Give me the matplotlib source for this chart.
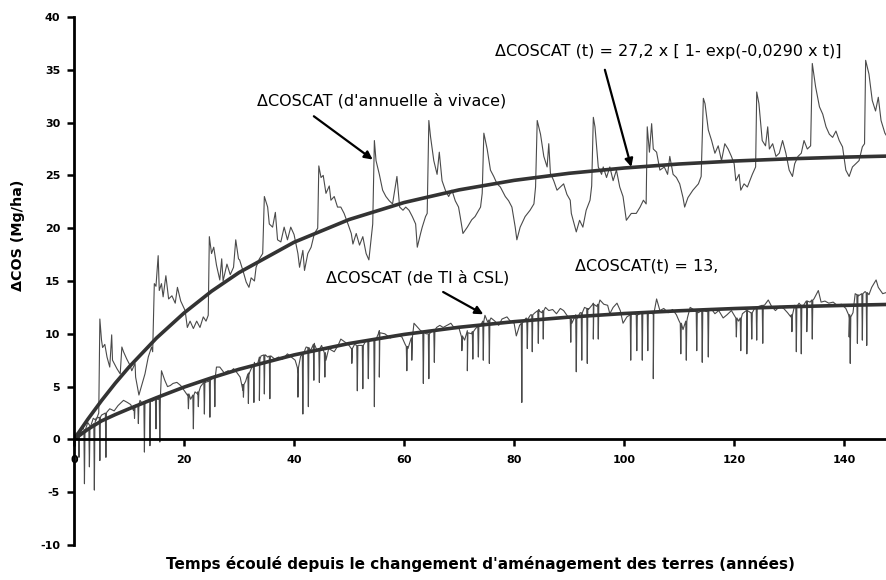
import matplotlib
matplotlib.use("Agg")
import matplotlib.pyplot as plt

plt.rcParams['axes.unicode_minus'] = False

# --- data ------------------------------------------------------------------

# noisy series "de annuelle a vivace" (t in years, value in Mg/ha)
upper_series = [
    (0, 0), (0.5, 0.6), (1, 0.3), (1.5, 1.2), (2, 0.8), (2.5, 1.6), (3, 1.2), (3.5, 2.0), (4, 1.8), (4.5, 2.5),
    (4.7, 11.4), (5.0, 9.4), (5.2, 8.7), (5.6, 9.0), (6.0, 7.8), (6.5, 6.85), (6.85, 9.9), (7.0, 7.5), (7.8, 6.7),
    (8.4, 6.2), (8.7, 8.75), (9.0, 8.3), (9.6, 7.6), (10.2, 7.0), (10.5, 6.5), (11.1, 7.2), (11.2, 5.9), (11.8, 4.2),
    (12.3, 5.1), (12.9, 6.2), (13.5, 7.8), (14.1, 8.75), (14.3, 8.3),
    (14.6, 14.75), (14.9, 14.5), (15.3, 17.4), (15.5, 14.1), (15.9, 14.75), (16.2, 13.5), (16.7, 15.5), (17.2, 13.3),
    (17.8, 13.6), (18.4, 12.9), (18.8, 14.4), (19.4, 13.1), (20.2, 12.2), (20.6, 10.6), (21.1, 11.2), (21.7, 10.5),
    (22.3, 11.2), (22.9, 10.6), (23.5, 11.6), (24.0, 11.2), (24.4, 11.75),
    (24.6, 19.2), (25.0, 17.6), (25.4, 18.2), (25.9, 16.5), (26.5, 15.1), (26.85, 17.1), (27.1, 15.0), (27.8, 16.6),
    (28.4, 15.6), (29.0, 16.3), (29.4, 18.9), (29.9, 17.1), (30.1, 17.0), (30.7, 16.0), (31.3, 14.9), (31.8, 14.4),
    (32.2, 15.3), (32.8, 15.0), (33.1, 16.3), (33.7, 17.1), (34.3, 17.6),
    (34.6, 23.0), (35.2, 22.0), (35.5, 20.4), (36.1, 20.1), (36.6, 21.5), (37.0, 18.9), (37.6, 18.7), (38.2, 20.1),
    (38.8, 18.9), (39.4, 20.1), (40.0, 19.4), (40.7, 17.6), (41.0, 16.3), (41.6, 17.9), (41.9, 16.0), (42.5, 17.6),
    (43.1, 18.2), (43.7, 19.5), (44.3, 20.0),
    (44.5, 25.9), (44.9, 24.8), (45.3, 25.0), (45.8, 23.3), (46.4, 24.0), (46.7, 22.65), (47.3, 23.0), (47.9, 22.0),
    (48.5, 22.0), (49.1, 21.4), (49.8, 20.4), (50.4, 19.5), (50.7, 18.5), (51.3, 19.5), (51.9, 18.4), (52.5, 19.2),
    (53.1, 17.6), (53.6, 17.0), (54.0, 18.9), (54.3, 20.4),
    (54.6, 28.3), (54.9, 26.4), (55.5, 25.1), (56.1, 23.6), (56.7, 23.0), (57.3, 22.6), (57.9, 22.3), (58.7, 24.9),
    (59.2, 22.0), (59.8, 21.7), (60.3, 22.0), (60.9, 21.7), (61.5, 21.1), (62.1, 20.4), (62.4, 18.2), (63.0, 19.5),
    (63.3, 20.1), (63.9, 21.1), (64.2, 21.4),
    (64.5, 30.2), (64.8, 28.7), (65.4, 26.4), (66.0, 25.1), (66.4, 27.2), (66.9, 24.5), (67.5, 23.6), (68.1, 23.0),
    (68.7, 23.6), (69.3, 22.6), (69.9, 22.0), (70.2, 21.1), (70.7, 19.5), (71.5, 20.1), (72.3, 20.8), (72.9, 21.1),
    (73.9, 22.0), (74.2, 23.3),
    (74.5, 29.0), (75.1, 27.5), (75.7, 25.5), (76.3, 24.9), (76.9, 24.2), (77.5, 23.9), (78.4, 23.0), (79.0, 22.6),
    (79.6, 22.0), (80.2, 20.1), (80.5, 18.9), (81.1, 20.1), (82.0, 21.1), (82.9, 21.7), (83.6, 22.3), (83.9, 23.9),
    (84.2, 30.2), (84.8, 28.9), (85.4, 26.8), (86.0, 25.8), (86.3, 28.0), (86.6, 25.2), (87.2, 24.5), (87.8, 23.6),
    (88.4, 23.9), (89.0, 24.2), (89.6, 23.2), (90.2, 22.65), (90.4, 21.4), (91.3, 19.65), (91.9, 20.75), (92.5, 20.1),
    (93.1, 21.7), (93.8, 22.65), (94.1, 24.0),
    (94.4, 30.5), (94.7, 29.6), (95.3, 25.8), (95.9, 25.1), (96.2, 25.8), (96.8, 24.8), (97.4, 25.8), (98.0, 24.5),
    (98.6, 25.5), (99.2, 23.9), (99.8, 23.0), (100.4, 20.75), (101.3, 21.4), (102.2, 21.4), (102.9, 22.0),
    (103.5, 22.65), (104.0, 22.3),
    (104.2, 29.6), (104.6, 27.2), (105.0, 29.9), (105.3, 27.5), (105.9, 27.2), (106.5, 25.5), (107.3, 25.8),
    (107.9, 25.1), (108.3, 26.8), (108.9, 25.1), (109.5, 24.8), (110.1, 24.2), (110.7, 22.9), (111.0, 22.0),
    (111.6, 22.9), (112.5, 23.6), (113.5, 24.2), (114.0, 24.9),
    (114.4, 32.3), (114.7, 31.8), (115.3, 29.3), (115.9, 28.3), (116.5, 27.1), (117.1, 27.8), (117.7, 26.4),
    (118.3, 28.0), (118.9, 27.5), (119.5, 26.8), (120.0, 26.1), (120.3, 24.5), (120.9, 25.1), (121.2, 23.6),
    (121.8, 24.2), (122.4, 23.9), (123.3, 25.1), (123.9, 25.8),
    (124.1, 32.9), (124.5, 31.8), (125.1, 28.3), (125.7, 27.8), (126.1, 29.6), (126.4, 27.5), (127.0, 28.0),
    (127.6, 26.8), (128.2, 27.1), (128.8, 28.3), (129.4, 27.1), (130.0, 25.5), (130.6, 24.9), (131.0, 26.1),
    (131.6, 26.8), (132.2, 27.1), (132.7, 28.3), (133.3, 27.5), (133.9, 27.8),
    (134.2, 35.6), (134.8, 33.4), (135.5, 31.5), (136.1, 30.8), (136.7, 29.6), (137.3, 28.9), (137.9, 28.6),
    (138.5, 29.2), (139.1, 28.3), (139.7, 27.7), (140.3, 25.5), (140.9, 24.9), (141.5, 25.8), (142.1, 26.1),
    (142.7, 26.4), (143.3, 27.7), (143.7, 28.0),
    (143.9, 35.9), (144.5, 34.6), (145.1, 32.1), (145.7, 31.1), (146.2, 32.4), (146.7, 30.2), (147.4, 29.0), (148, 28.5),
]

# noisy series "de TI a CSL": slowly varying level ...
lower_base = [
    (0, 0), (0.5, 0.3), (1.2, 0.6), (2, 0.9), (3, 1.2), (4, 2.0), (5, 2.3), (6.0, 2.6), (6.5, 2.9), (7.3, 2.7),
    (8.0, 3.2), (9.0, 3.7), (9.7, 3.5), (10.3, 3.3), (10.8, 2.75), (11.5, 3.3), (12.0, 3.7), (12.4, 3.4), (13.0, 3.6),
    (13.8, 3.7), (14.2, 3.6), (15.0, 3.9), (15.4, 3.8), (15.9, 6.5), (16.5, 5.6), (17.0, 5.0), (17.5, 5.1),
    (18.0, 5.3), (18.7, 5.4), (19.4, 5.1), (20.2, 4.5), (20.6, 4.2), (21.2, 3.8), (22.0, 4.5), (22.5, 4.3),
    (23.0, 5.0), (23.8, 5.6), (24.5, 5.5), (25.2, 5.8), (25.9, 6.85), (26.5, 6.85), (27.3, 6.3), (28.0, 6.5),
    (28.5, 6.4), (29.0, 6.7), (29.5, 6.4), (30.2, 5.9), (30.7, 4.65), (31.2, 5.5), (31.8, 6.3), (32.3, 6.8),
    (32.8, 7.3), (33.3, 7.0), (33.7, 7.8), (34.0, 7.9), (34.8, 8.0), (35.2, 7.8), (35.8, 7.9), (36.5, 7.6),
    (37.2, 7.8), (37.9, 7.6), (38.8, 8.1), (39.5, 7.8), (40.2, 7.5), (40.7, 6.2), (41.2, 7.9), (42.0, 8.5),
    (42.2, 8.75), (43.0, 8.4), (43.7, 9.1), (44.2, 8.4), (45.0, 8.9), (45.8, 7.5), (46.3, 8.6), (47.3, 8.3),
    (48.0, 8.9), (48.5, 9.5), (49.3, 9.2), (50.0, 8.9), (50.5, 8.6), (51.0, 9.0), (52.0, 8.9), (53.0, 9.3),
    (54.0, 9.4), (55.0, 9.6), (55.5, 10.3), (56.5, 10.0), (57.5, 9.6), (58.5, 9.9), (59.6, 9.7), (60.2, 9.0),
    (60.7, 8.6), (61.4, 9.6), (61.8, 11.0), (62.5, 10.6), (63.0, 10.3), (64.0, 10.0), (65.0, 10.2), (65.9, 10.6),
    (66.5, 10.8), (67.1, 10.6), (67.8, 10.8), (68.5, 11.0), (69.2, 10.5), (70.0, 10.5), (70.5, 9.6), (71.0, 9.4),
    (71.5, 10.3), (72.3, 10.0), (73.0, 10.5), (74.0, 10.9), (74.7, 11.75), (75.2, 11.1), (75.8, 11.5),
    (76.5, 11.2), (77.2, 10.8), (77.8, 11.4), (78.7, 11.6), (79.3, 11.2), (80.0, 11.0), (80.4, 9.8), (81.0, 10.8),
    (81.7, 11.2), (82.2, 11.5), (83.0, 11.8), (83.8, 12.0), (84.5, 12.3), (85.0, 12.0), (85.7, 12.5), (86.3, 12.2),
    (87.0, 12.3), (87.7, 11.9), (88.4, 12.4), (89.0, 12.2), (89.8, 11.6), (90.5, 11.0), (91.2, 11.8), (92.0, 12.0),
    (92.8, 12.5), (93.5, 12.3), (94.4, 12.9), (95.0, 12.6), (95.6, 13.2), (96.3, 12.8), (97.0, 12.7), (97.4, 11.9),
    (98.0, 12.5), (98.7, 12.9), (99.3, 12.2), (99.8, 11.0), (100.5, 11.6), (101.5, 12.0), (102.5, 11.8),
    (103.5, 12.1), (104.5, 12.0), (105.3, 11.9), (105.9, 13.3), (106.5, 12.2), (107.2, 12.4), (108.0, 12.0),
    (108.8, 12.3), (109.5, 11.8), (110.0, 11.2), (110.7, 10.4), (111.5, 11.5), (112.0, 12.5), (112.6, 12.3),
    (113.5, 12.0), (114.3, 12.3), (115.0, 12.1), (115.8, 12.4), (116.5, 11.9), (117.2, 12.2), (118.0, 11.5),
    (118.7, 11.8), (119.5, 12.2), (120.2, 11.6), (120.8, 11.2), (121.5, 11.9), (122.3, 12.2), (123.0, 12.0),
    (123.7, 12.4), (124.5, 12.6), (125.5, 12.7), (126.2, 13.2), (126.8, 12.6), (127.5, 12.2), (128.3, 12.6),
    (129.0, 12.4), (129.7, 12.0), (130.3, 11.6), (131.0, 12.7), (131.8, 12.9), (132.5, 12.6), (133.2, 13.1),
    (133.8, 13.0), (134.5, 13.3), (135.3, 14.1), (135.8, 13.0), (136.5, 13.1), (137.2, 12.9), (138.0, 13.0),
    (138.7, 12.7), (139.5, 12.8), (140.3, 12.4), (140.9, 11.5), (141.6, 12.0), (142.0, 13.8), (142.6, 13.6),
    (143.2, 13.8), (143.8, 14.0), (144.5, 13.7), (145.0, 14.4), (145.8, 15.1), (146.2, 14.4), (147.0, 13.8),
    (147.6, 13.9), (148, 13.8),
]

# ... with sharp downward spikes: (t, level around the spike, bottom of spike)
lower_spikes = [
    (0.9, 0.4, -1.7), (1.9, 0.8, -4.2), (2.8, 1.0, -2.6), (3.7, 1.5, -4.8), (4.7, 2.1, -2.0), (5.8, 2.5, -1.7),
    (11.0, 3.2, 2.0), (11.7, 3.3, 1.5), (12.8, 3.5, -1.2), (13.8, 3.7, -0.6), (14.9, 3.8, 1.0), (15.6, 3.9, -0.25),
    (20.8, 4.3, 2.9), (21.7, 4.2, 1.0), (22.6, 4.5, 3.1), (23.7, 5.4, 2.4), (24.7, 5.6, 2.1), (25.6, 6.0, 3.1),
    (30.8, 5.2, 4.0), (31.7, 6.2, 3.4), (32.7, 7.0, 3.5), (33.7, 7.6, 3.7), (34.6, 8.0, 4.3), (35.6, 7.9, 3.85),
    (40.7, 6.8, 4.0), (41.6, 8.0, 2.4), (42.6, 8.7, 3.1), (43.6, 9.0, 5.6), (44.6, 8.6, 5.4), (45.6, 8.2, 5.9),
    (50.5, 8.6, 7.2), (51.5, 8.9, 4.6), (52.5, 8.9, 4.8), (53.5, 9.3, 5.75), (54.6, 9.5, 3.1), (55.5, 10.1, 5.9),
    (60.5, 8.8, 6.5), (61.4, 9.6, 7.5), (63.5, 10.2, 5.3), (64.5, 10.0, 5.75), (65.5, 10.3, 7.3),
    (70.5, 9.8, 8.4), (71.5, 10.1, 6.5), (72.5, 10.2, 7.6), (73.5, 10.7, 7.8), (74.4, 11.2, 7.5), (75.5, 11.3, 7.2),
    (81.4, 11.0, 3.5), (82.4, 11.4, 8.6), (83.3, 11.8, 8.3), (84.4, 12.2, 9.1), (85.3, 12.2, 9.5),
    (90.3, 11.4, 9.2), (91.3, 11.4, 6.4), (92.3, 12.0, 7.5), (93.3, 12.4, 7.2), (94.4, 12.8, 9.5), (95.3, 12.8, 9.5),
    (101.2, 11.8, 7.5), (102.3, 11.8, 8.4), (103.3, 12.0, 7.5), (104.3, 12.0, 8.4), (105.3, 11.9, 5.75),
    (110.3, 11.0, 8.1), (111.3, 11.2, 7.5), (113.2, 12.1, 8.4), (114.2, 12.2, 7.3), (115.3, 12.2, 7.8),
    (120.4, 11.5, 9.7), (121.2, 11.5, 8.4), (122.3, 12.2, 8.1), (123.2, 12.0, 9.5), (124.1, 12.5, 9.4),
    (125.2, 12.7, 9.1),
    (130.5, 11.8, 10.2), (131.3, 12.6, 8.3), (132.2, 12.7, 8.1), (133.2, 13.1, 10.2), (134.2, 13.2, 9.5),
    (140.9, 11.8, 9.7), (141.1, 11.6, 7.2), (142.4, 13.7, 9.1), (143.3, 13.8, 9.4), (144.1, 13.9, 8.9),
]

# fitted curves, values
fit_t = [0, 2.5, 5, 7.5, 10, 15, 20, 25, 30, 40, 50, 60, 70, 80, 90, 100, 110, 120, 130, 140, 148]
fit_upper = [0, 1.90, 3.67, 5.32, 6.85, 9.60, 11.97, 14.03, 15.80, 18.67, 20.82, 22.43, 23.63, 24.53,
             25.20, 25.70, 26.08, 26.36, 26.57, 26.73, 26.83]
fit_lower = [0, 0.95, 1.75, 2.35, 2.90, 3.95, 4.95, 5.83, 6.64, 8.00, 9.08, 9.94, 10.62, 11.15,
             11.58, 11.92, 12.18, 12.39, 12.56, 12.69, 12.78]

x_ticks = [0, 20, 40, 60, 80, 100, 120, 140]
y_ticks = [-10, -5, 0, 5, 10, 15, 20, 25, 30, 35, 40]


def build_lower(base, spikes):
    pts = list(base)
    for t, level, bottom in spikes:
        pts += [(t - 0.1, level), (t, bottom), (t + 0.1, level)]
    pts.sort(key=lambda p: p[0])
    return zip(*pts)


def main():
    fig = plt.figure(figsize=(8.86, 5.80), dpi=100)
    ax = fig.add_axes([74 / 886, 35 / 580, 812 / 886, 528 / 580])

    up_t, up_v = zip(*upper_series)
    lo_t, lo_v = build_lower(lower_base, lower_spikes)

    ax.plot(up_t, up_v, color='#4a4a4a', lw=0.8)
    ax.plot(lo_t, lo_v, color='#4a4a4a', lw=0.8)
    ax.plot(fit_t, fit_upper, color='#333333', lw=2.6, solid_capstyle='butt')
    ax.plot(fit_t, fit_lower, color='#333333', lw=2.6, solid_capstyle='butt')

    ax.set_xlim(0, 147.6)
    ax.set_ylim(-10, 40)

    for side in ['top', 'right']:
        ax.spines[side].set_visible(False)
    ax.spines['bottom'].set_position(('data', 0))
    ax.spines['bottom'].set_linewidth(2)
    ax.spines['left'].set_linewidth(2)

    ax.set_xticks(x_ticks)
    ax.set_yticks(y_ticks)
    ax.tick_params(axis='both', direction='out', length=5, width=1.8, labelsize=8)
    ax.tick_params(axis='x', pad=6)
    ax.tick_params(axis='y', pad=5)
    for lab in ax.get_xticklabels() + ax.get_yticklabels():
        lab.set_fontweight('bold')

    fig.text(18 / 886, 1 - 235 / 580, 'ΔCOS (Mg/ha)', rotation=90, fontsize=10.3, fontweight='bold',
             ha='center', va='center')
    fig.text(480 / 886, 1 - 564 / 580, "Temps écoulé depuis le changement d'aménagement des terres (années)",
             ha='center', va='center', fontsize=11, fontweight='bold')

    arrow = dict(arrowstyle='-|>', color='black', lw=1.6, mutation_scale=12, shrinkA=0, shrinkB=0)
    ax.annotate('', xy=(54.3, 26.5), xytext=(43.6, 30.6), arrowprops=arrow)
    ax.text(33.3, 32.1, "ΔCOSCAT (d'annuelle à vivace)", fontsize=11.5, va='center', ha='left')
    ax.annotate('', xy=(101.3, 25.8), xytext=(96.5, 35.0), arrowprops=arrow)
    ax.text(76.5, 36.7, 'ΔCOSCAT (t) = 27,2 x [ 1- exp(-0,0290 x t)]', fontsize=11.5, va='center', ha='left')
    ax.annotate('', xy=(74.4, 11.85), xytext=(67.1, 13.96), arrowprops=arrow)
    ax.text(45.8, 15.35, 'ΔCOSCAT (de TI à CSL)', fontsize=11.5, va='center', ha='left')
    ax.text(91.1, 16.4, 'ΔCOSCAT(t) = 13,', fontsize=11.5, va='center', ha='left')

    fig.savefig('out.png', dpi=100)


main()
